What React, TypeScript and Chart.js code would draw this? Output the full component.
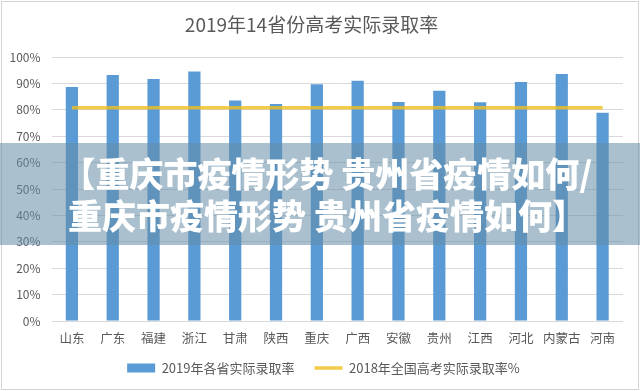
import React, { useEffect, useRef } from "react";
import { Chart, registerables } from "chart.js";

Chart.register(...registerables);

const TITLE = "2019年14省份高考实际录取率";
const provinces = ["山东", "广东", "福建", "浙江", "甘肃", "陕西", "重庆", "广西", "安徽", "贵州", "江西", "河北", "内蒙古", "河南"];
const rate2019 = [88.6, 93.2, 91.7, 94.5, 83.5, 82.2, 89.7, 91.0, 83.0, 87.2, 82.9, 90.5, 93.6, 78.9];
const national2018 = [80.8, 80.8, 80.8, 80.8, 80.8, 80.8, 80.8, 80.8, 80.8, 80.8, 80.8, 80.8, 80.8, 80.8];
const seriesNames = ["2019年各省实际录取率", "2018年全国高考实际录取率%"];
const yTicks = [0, 10, 20, 30, 40, 50, 60, 70, 80, 90, 100];
const bannerLines = ["【重庆市疫情形势 贵州省疫情如何/", "重庆市疫情形势 贵州省疫情如何】"];

const FONT = "'Noto Sans CJK SC', 'Noto Sans', sans-serif";
const TEXT = "#595959";

const legendShift = {
  id: "legendShift",
  afterLayout(chart: any) {
    const l = chart.legend;
    if (!l) return;
    l.left += 24;
    const dy = -6.5;
    l.top += dy;
    l.bottom += dy;
  },
};

export default function App() {
  const ref = useRef<HTMLCanvasElement | null>(null);

  useEffect(() => {
    document.body.style.margin = "0";
    if (!ref.current) return;
    const chart = new Chart(ref.current, {
      type: "bar",
      data: {
        labels: provinces,
        datasets: [
          {
            type: "bar",
            label: seriesNames[0],
            data: rate2019,
            backgroundColor: "#5B9BD5",
            borderWidth: 0,
            categoryPercentage: 1,
            barPercentage: 0.3,
            pointStyle: "rect",
            order: 1,
          } as any,
          {
            type: "line",
            label: seriesNames[1],
            data: national2018,
            borderColor: "rgba(240,190,30,0.8)",
            backgroundColor: "rgba(240,190,30,0.8)",
            borderWidth: 3.5,
            pointRadius: 0,
            pointStyle: "line",
            tension: 0,
            order: 0,
          } as any,
        ],
      },
      plugins: [legendShift],
      options: {
        animation: false,
        responsive: true,
        maintainAspectRatio: false,
        layout: { padding: { left: 0, right: 17, top: 0, bottom: 0 } },
        plugins: {
          tooltip: { enabled: false },
          title: {
            display: true,
            text: TITLE,
            color: TEXT,
            font: { family: FONT, size: 19, weight: "normal" },
            padding: { top: 13.6, bottom: 20.6 },
          },
          legend: {
            position: "bottom",
            labels: {
              usePointStyle: true,
              pointStyleWidth: 28,
              boxHeight: 9,
              padding: 20,
              color: TEXT,
              font: { family: FONT, size: 13 },
              sort: (a: any, b: any) => a.datasetIndex - b.datasetIndex,
            },
          },
        },
        scales: {
          x: {
            grid: { display: false, drawTicks: false },
            border: { display: false },
            ticks: {
              color: TEXT,
              font: { family: FONT, size: 12.5 },
              padding: 9.5,
              autoSkip: false,
              maxRotation: 0,
            },
            afterFit: (s: any) => {
              s.height = 27;
            },
          },
          y: {
            min: 0,
            max: 100,
            afterBuildTicks: (s: any) => {
              s.ticks = yTicks.map((v) => ({ value: v }));
            },
            grid: { color: "#d9d9d9", drawTicks: false, lineWidth: 1 },
            border: { display: false },
            ticks: {
              color: TEXT,
              font: { family: FONT, size: 12 },
              padding: 11,
              callback: (v: any) => v + "%",
            },
            afterFit: (s: any) => {
              s.width = 51.5;
            },
          },
        },
      } as any,
    });
    return () => chart.destroy();
  }, []);

  return (
    <div style={{ position: "relative", width: 640, height: 391, background: "#fff", overflow: "hidden" }}>
      <canvas ref={ref} />
      <div
        style={{
          position: "absolute",
          left: 1,
          top: 1,
          right: 1,
          bottom: 1,
          border: "1px solid #d4d4d4",
          pointerEvents: "none",
        }}
      />
      <div
        style={{
          position: "absolute",
          left: 0,
          top: 143,
          width: 640,
          height: 102,
          background: "rgba(100,140,165,0.55)",
          boxSizing: "border-box",
          paddingTop: 9,
          paddingLeft: 14,
          textAlign: "center",
          color: "#ffffff",
          fontFamily: FONT,
          fontWeight: 900,
          fontSize: 34,
          lineHeight: "42px",
          whiteSpace: "pre",
          pointerEvents: "none",
        }}
      >
        {bannerLines.map((t, i) => (
          <div key={i}>{t}</div>
        ))}
      </div>
    </div>
  );
}
